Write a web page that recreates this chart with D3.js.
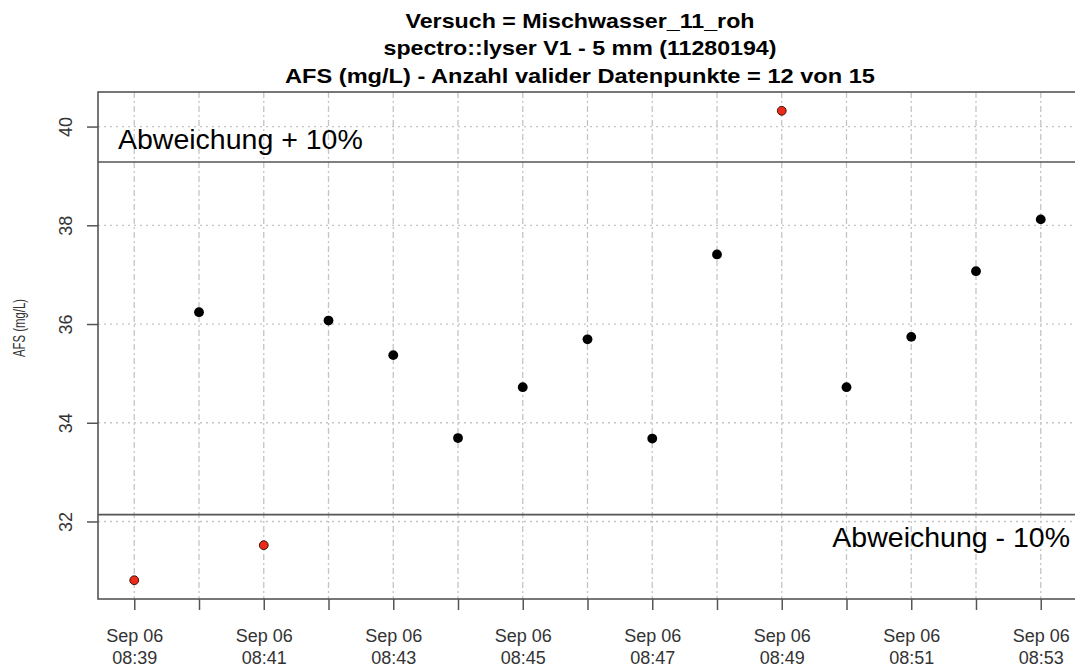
<!DOCTYPE html>
<html>
<head>
<meta charset="utf-8">
<script src="https://cdn.jsdelivr.net/npm/d3@7"></script>
<style>
  html, body { margin: 0; padding: 0; background: #fff; }
  svg { display: block; font-family: "Liberation Sans", Arial, Helvetica, sans-serif; }
</style>
</head>
<body>
<svg id="chart" width="1075" height="668"></svg>
<script>
// ---- data ----
const titleLines = [
  "Versuch = Mischwasser_11_roh",
  "spectro::lyser V1 - 5 mm (11280194)",
  "AFS (mg/L) - Anzahl valider Datenpunkte = 12 von 15"
];
const timeLabels = ["08:39","08:40","08:41","08:42","08:43","08:44","08:45","08:46",
                    "08:47","08:48","08:49","08:50","08:51","08:52","08:53"];
const afsValues = [30.81, 36.24, 31.52, 36.07, 35.37, 33.69, 34.72, 35.69,
                   33.68, 37.41, 40.32, 34.72, 35.74, 37.07, 38.12];
const validFlags = [false, true, false, true, true, true, true, true,
                    true, true, false, true, true, true, true];
const yTicks = [32, 34, 36, 38, 40];
const dateLabel = "Sep 06";
const yLabel = "AFS (mg/L)";
const upperLabel = "Abweichung + 10%";
const lowerLabel = "Abweichung - 10%";
const deviation = 0.10;

// ---- layout ----
const plot = { left: 98, right: 1077, top: 92, bottom: 599 };
const svg = d3.select("#chart");
const parse = d3.timeParse("%Y-%m-%d %H:%M");
const times = timeLabels.map(t => parse("2017-09-06 " + t));
const data = times.map((t, i) => ({ t, v: afsValues[i], valid: validFlags[i] }));

// R-style 4% padding
const tExt = d3.extent(times);
const tPad = (tExt[1] - tExt[0]) * 0.04;
const x = d3.scaleTime()
  .domain([new Date(+tExt[0] - tPad), new Date(+tExt[1] + tPad)])
  .range([plot.left, plot.right]);
const vExt = d3.extent(afsValues);
const vPad = (vExt[1] - vExt[0]) * 0.04;
const y = d3.scaleLinear()
  .domain([vExt[0] - vPad, vExt[1] + vPad])
  .range([plot.bottom, plot.top]);

const validMean = d3.mean(data.filter(d => d.valid), d => d.v);
const upper = validMean * (1 + deviation);
const lower = validMean * (1 - deviation);

// ---- grid ----
const grid = svg.append("g");
grid.selectAll("line.vg").data(times).join("line")
  .attr("x1", d => x(d)).attr("x2", d => x(d))
  .attr("y1", plot.top).attr("y2", plot.bottom)
  .attr("stroke", "#c4c4c4").attr("stroke-width", 1.3)
  .attr("stroke-dasharray", "6,3,2,3");
grid.selectAll("line.hg").data(yTicks).join("line")
  .attr("x1", plot.left).attr("x2", plot.right)
  .attr("y1", d => y(d)).attr("y2", d => y(d))
  .attr("stroke", "#c4c4c4").attr("stroke-width", 1.3)
  .attr("stroke-dasharray", "2,4");

// ---- deviation lines ----
svg.selectAll("line.dev").data([upper, lower]).join("line")
  .attr("x1", plot.left).attr("x2", plot.right)
  .attr("y1", d => y(d)).attr("y2", d => y(d))
  .attr("stroke", "#555").attr("stroke-width", 1.6);

svg.append("text")
  .attr("x", 118).attr("y", y(upper) - 13)
  .attr("font-size", 28.5).attr("fill", "#000")
  .text(upperLabel);
svg.append("text")
  .attr("x", 1070).attr("y", y(lower) + 32)
  .attr("text-anchor", "end")
  .attr("font-size", 28.5).attr("fill", "#000")
  .text(lowerLabel);

// ---- axes ----
const xAxis = d3.axisBottom(x)
  .tickValues(times)
  .tickSize(11)
  .tickFormat("");
const gx = svg.append("g").attr("transform", `translate(0,${plot.bottom})`).call(xAxis);
gx.select(".domain").remove();
gx.selectAll(".tick line").attr("stroke", "#555").attr("stroke-width", 1.5);
gx.selectAll(".tick").each(function(d, i) {
  if (i % 2 !== 0) return;
  const g = d3.select(this);
  const t = g.append("text").attr("fill", "#333").attr("font-size", 18)
    .attr("text-anchor", "middle");
  t.append("tspan").attr("x", 0).attr("y", 42.5).text(dateLabel);
  t.append("tspan").attr("x", 0).attr("y", 65).text(timeLabels[i]);
});

const yAxis = d3.axisLeft(y).tickValues(yTicks).tickSize(11).tickFormat(d3.format("d"));
const gy = svg.append("g").attr("transform", `translate(${plot.left},0)`).call(yAxis);
gy.select(".domain").remove();
gy.selectAll(".tick line").attr("stroke", "#555").attr("stroke-width", 1.5);
gy.selectAll(".tick text")
  .attr("fill", "#333").attr("font-size", 18)
  .attr("font-family", "'Liberation Sans', Arial, sans-serif")
  .attr("text-anchor", "middle")
  .attr("x", null).attr("dy", null)
  .attr("transform", "translate(-26.5,0) rotate(-90)")
  .attr("y", 0);

svg.append("text")
  .attr("transform", "translate(25,328) rotate(-90)")
  .attr("text-anchor", "middle")
  .attr("font-size", 16.5).attr("fill", "#333")
  .attr("textLength", 58).attr("lengthAdjust", "spacingAndGlyphs")
  .text(yLabel);

// ---- box ----
svg.append("rect")
  .attr("x", plot.left).attr("y", plot.top)
  .attr("width", plot.right - plot.left).attr("height", plot.bottom - plot.top)
  .attr("fill", "none").attr("stroke", "#555").attr("stroke-width", 1.6);

// ---- points ----
svg.selectAll("circle.pt").data(data).join("circle")
  .attr("cx", d => x(d.t)).attr("cy", d => y(d.v))
  .attr("r", d => d.valid ? 4.9 : 4.4)
  .attr("fill", d => d.valid ? "#000" : "#ee2a1a")
  .attr("stroke", d => d.valid ? "none" : "#3a1408")
  .attr("stroke-width", 1);

// ---- title ----
const titleWidths = [349, 393, 590];
svg.selectAll("text.title").data(titleLines).join("text")
  .attr("x", 580).attr("y", (d, i) => 27.5 + i * 27.8)
  .attr("text-anchor", "middle")
  .attr("font-size", 20.5).attr("font-weight", "bold").attr("fill", "#000")
  .attr("textLength", (d, i) => titleWidths[i])
  .attr("lengthAdjust", "spacingAndGlyphs")
  .text(d => d);
</script>
</body>
</html>
